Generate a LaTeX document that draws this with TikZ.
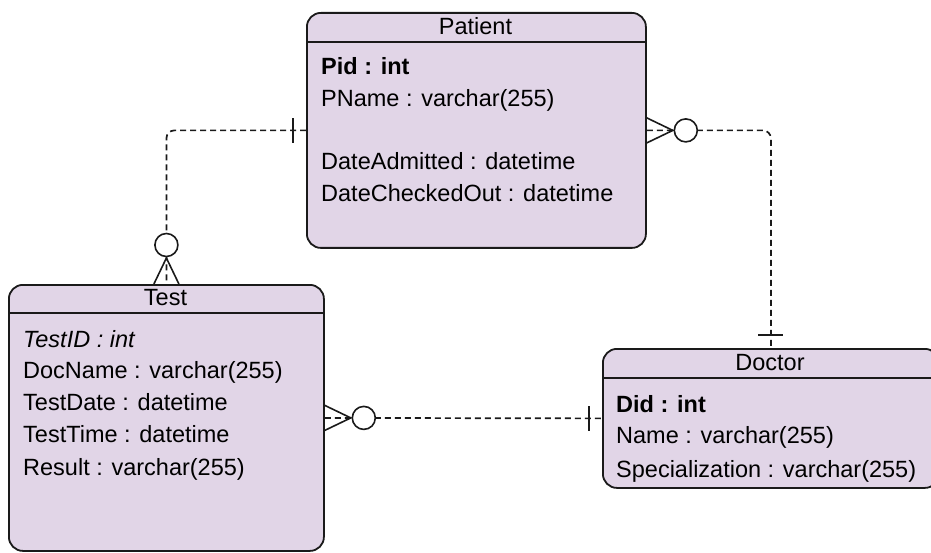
\documentclass[tikz,border=0pt]{standalone}
\usepackage{fontspec}
\setmainfont{Liberation Sans}
\usetikzlibrary{calc}

\definecolor{erfill}{HTML}{E1D5E7}
\definecolor{erline}{HTML}{1A1A1A}

% crow's foot "zero or many" end: #1 anchor on the box, #2 outward angle
\newcommand{\erZeroMany}[2]{%
  \begin{scope}[shift={(#1)}, rotate=#2]
    \draw[erfoot] (0pt,12.5pt) -- (26pt,0pt) -- (0pt,-12.5pt);
    \draw[erfoot, fill=white] (39pt,0pt) circle[radius=11.5pt];
  \end{scope}}
% "exactly one" end: a single bar across the connector
\newcommand{\erOne}[2]{%
  \begin{scope}[shift={(#1)}, rotate=#2]
    \draw[erfoot] (13pt,12.5pt) -- (13pt,-12.5pt);
  \end{scope}}

\begin{document}
\begin{tikzpicture}[x=1pt, y=-1pt,
  entity/.style={draw=erline, fill=erfill, line width=1.8pt,
    rounded corners=14pt, inner sep=0pt, anchor=north west},
  divider/.style={draw=erline, line width=1.6pt},
  title/.style={anchor=base, inner sep=0pt, font=\fontsize{23.5}{28}\selectfont},
  field/.style={anchor=base west, inner sep=0pt, font=\fontsize{23.5}{28}\selectfont},
  keyfield/.style={field, font=\fontsize{23.5}{28}\selectfont\bfseries},
  relation/.style={draw=erline, line width=1.7pt, dash pattern=on 6pt off 4pt,
    rounded corners=8pt},
  erfoot/.style={draw=erline, line width=1.6pt}]

\useasboundingbox (0,0) rectangle (931,553);

% entity boxes
\node[entity, minimum width=339pt, minimum height=235pt] (patient) at (306,12) {};
\node[entity, minimum width=315pt, minimum height=266pt] (test) at (8,284) {};
\node[entity, minimum width=336pt, minimum height=139pt] (doctor) at (602,348) {};

% header dividers
\draw[divider] ([yshift=-30pt]patient.north west) -- ([yshift=-30pt]patient.north east);
\draw[divider] ([yshift=-29pt]test.north west) -- ([yshift=-29pt]test.north east);
\draw[divider] ([yshift=-30pt]doctor.north west) -- ([yshift=-30pt]doctor.north east);

% Patient
\node[title] (patientTitle) at (475.5,35) {Patient};
\node[keyfield] (pid) at (321,75) {Pid : int};
\node[field] (pname) at (321,107) {PName : varchar(255)};
\node[field] (padm) at (321,170) {DateAdmitted : datetime};
\node[field] (pout) at (321,202) {DateCheckedOut : datetime};

% Test
\node[title] (testTitle) at (165.5,305) {Test};
\node[field, font=\fontsize{23.5}{28}\selectfont\itshape] (tid) at (23,347) {TestID : int};
\node[field] (tdoc) at (23,378) {DocName : varchar(255)};
\node[field] (tdate) at (23,410) {TestDate : datetime};
\node[field] (ttime) at (23,442) {TestTime : datetime};
\node[field] (tres) at (23,475) {Result : varchar(255)};

% Doctor
\node[title] (doctorTitle) at (770,370) {Doctor};
\node[keyfield] (did) at (616,412) {Did : int};
\node[field] (dname) at (616,443) {Name : varchar(255)};
\node[field] (dspec) at (616,477) {Specialization : varchar(255)};

% relationships
\draw[relation] (patient.west) -| (test.north);
\draw[relation] (patient.east) -| (doctor.north);
\draw[relation] (test.east) -- (doctor.west);

% cardinality marks
\erOne{patient.west}{180}
\erZeroMany{test.north}{90}
\erZeroMany{patient.east}{0}
\erOne{doctor.north}{90}
\erZeroMany{test.east}{0}
\erOne{doctor.west}{180}

\end{tikzpicture}
\end{document}
